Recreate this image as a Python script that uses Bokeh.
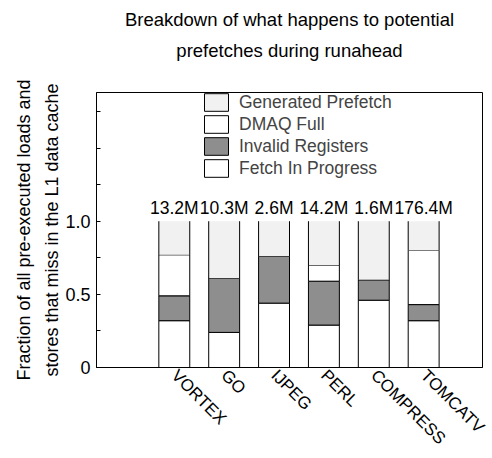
from bokeh.plotting import figure
from bokeh.models import (Range1d, FixedTicker, LinearAxis, Legend, LegendItem,
                          ColumnDataSource)
from bokeh.core.properties import value
from bokeh.embed import file_html
from bokeh.resources import INLINE

# ---- data ----
benchmarks = ["VORTEX", "GO", "IJPEG", "PERL", "COMPRESS", "TOMCATV"]
counts = ["13.2M", "10.3M", "2.6M", "14.2M", "1.6M", "176.4M"]
fetch_in_progress = [0.32, 0.24, 0.44, 0.29, 0.46, 0.32]
invalid_registers = [0.17, 0.37, 0.32, 0.30, 0.14, 0.11]
dmaq_full = [0.28, 0.00, 0.00, 0.11, 0.00, 0.37]
generated_prefetch = [0.23, 0.39, 0.24, 0.30, 0.40, 0.20]
title_lines = ["Breakdown of what happens to potential", "prefetches during runahead"]

FONT = "Liberation Sans"
GP_COLOR = "#f1f1f1"
IR_COLOR = "#8e8e8e"
xs = list(range(1, len(benchmarks) + 1))
bottoms_gp = [a + b + c for a, b, c in zip(fetch_in_progress, invalid_registers, dmaq_full)]
totals = [b + g for b, g in zip(bottoms_gp, generated_prefetch)]
W = 0.62

p = figure(width=492, height=458, output_backend="svg", toolbar_location=None,
           x_range=Range1d(-0.56, 7.18), y_range=Range1d(0, 1.88),
           min_border_left=96, min_border_right=10, min_border_bottom=91, min_border_top=92)
p.grid.visible = False
p.outline_line_color = "black"
p.outline_line_width = 1
p.background_fill_color = "white"

src = ColumnDataSource(dict(x=xs, fip=fetch_in_progress, ir=invalid_registers,
                            dmaq=dmaq_full, gp=generated_prefetch,
                            gp_bottom=bottoms_gp, top=totals, counts=counts,
                            left=[x - W / 2 for x in xs], right=[x + W / 2 for x in xs]))

rs = p.vbar_stack(["fip", "ir", "dmaq"], x="x", width=W, source=src,
                  fill_color=["white", IR_COLOR, "white"], line_color="black", line_width=1)
p.vbar(x="x", bottom="gp_bottom", top="top", width=W, source=src,
       fill_color=GP_COLOR, line_color=None)
p.segment(x0="left", y0="gp_bottom", x1="left", y1="top", source=src, line_color="black", line_width=1)
p.segment(x0="right", y0="gp_bottom", x1="right", y1="top", source=src, line_color="black", line_width=1)
# zero-height bars (lie on the x axis line) used only for the legend swatch
gp_key = p.vbar(x="x", bottom=0, top=0, width=W, source=src, fill_color=GP_COLOR, line_color="black")

p.text(x="x", y="top", text="counts", source=src, text_align="center", text_baseline="bottom",
       y_offset=-3, text_font=value(FONT), text_font_size="17.5px", text_color="black")

legend = Legend(items=[LegendItem(label="Generated Prefetch", renderers=[gp_key]),
                       LegendItem(label="DMAQ Full", renderers=[rs[2]]),
                       LegendItem(label="Invalid Registers", renderers=[rs[1]]),
                       LegendItem(label="Fetch In Progress", renderers=[rs[0]])],
                location=(105, 188), glyph_width=30, glyph_height=22, label_height=22,
                spacing=0, padding=0, margin=0, label_standoff=8,
                border_line_color=None, background_fill_alpha=0,
                label_text_font=FONT, label_text_font_size="17.5px")
p.add_layout(legend, "center")

# main axes (grab them before any extra axes are added)
xa = p.below[0]
ya = p.left[0]

xa.ticker = FixedTicker(ticks=xs)
xa.major_label_overrides = {x: b for x, b in zip(xs, benchmarks)}
xa.major_label_orientation = -0.785398
xa.major_tick_in = 0
xa.major_tick_out = 0
xa.minor_tick_in = 0
xa.minor_tick_out = 0
xa.major_label_standoff = 5
xa.major_label_text_font = FONT
xa.major_label_text_font_size = "17px"
xa.major_label_text_color = "black"
xa.axis_line_color = "black"

ya.ticker = FixedTicker(ticks=[0, 0.5, 1.0], minor_ticks=[0.25, 0.75, 1.25, 1.5, 1.75])
ya.major_label_overrides = {0: "0", 0.5: "0.5", 1: "1.0"}
ya.major_tick_in = 4
ya.major_tick_out = 0
ya.minor_tick_in = 4
ya.minor_tick_out = 0
ya.major_label_standoff = 6
ya.major_label_text_font = FONT
ya.major_label_text_font_size = "18px"
ya.major_label_text_color = "black"
ya.axis_line_color = "black"
ya.axis_label = "stores that miss in the L1 data cache"
ya.axis_label_standoff = 0
ya.axis_label_text_font = FONT
ya.axis_label_text_font_size = "18px"
ya.axis_label_text_font_style = "normal"
ya.axis_label_text_color = "black"


def label_axis(text, standoff, size):
    return LinearAxis(ticker=FixedTicker(ticks=[]), axis_line_color=None,
                      major_tick_in=0, major_tick_out=0, minor_tick_in=0, minor_tick_out=0,
                      major_label_standoff=0, axis_label=text, axis_label_standoff=standoff,
                      axis_label_text_font=FONT, axis_label_text_font_size=size,
                      axis_label_text_font_style="normal", axis_label_text_color="black")


# first line of the y label, outside the main y axis
p.add_layout(label_axis("Fraction of all pre-executed loads and", 6, "18px"), "left")

# two-line centred title, as label-only axes above the frame (inner line first)
p.add_layout(label_axis(title_lines[1], 32, "18.5px"), "above")
p.add_layout(label_axis(title_lines[0], 7, "18.5px"), "above")

open("out.html", "w").write(file_html(p, INLINE))
